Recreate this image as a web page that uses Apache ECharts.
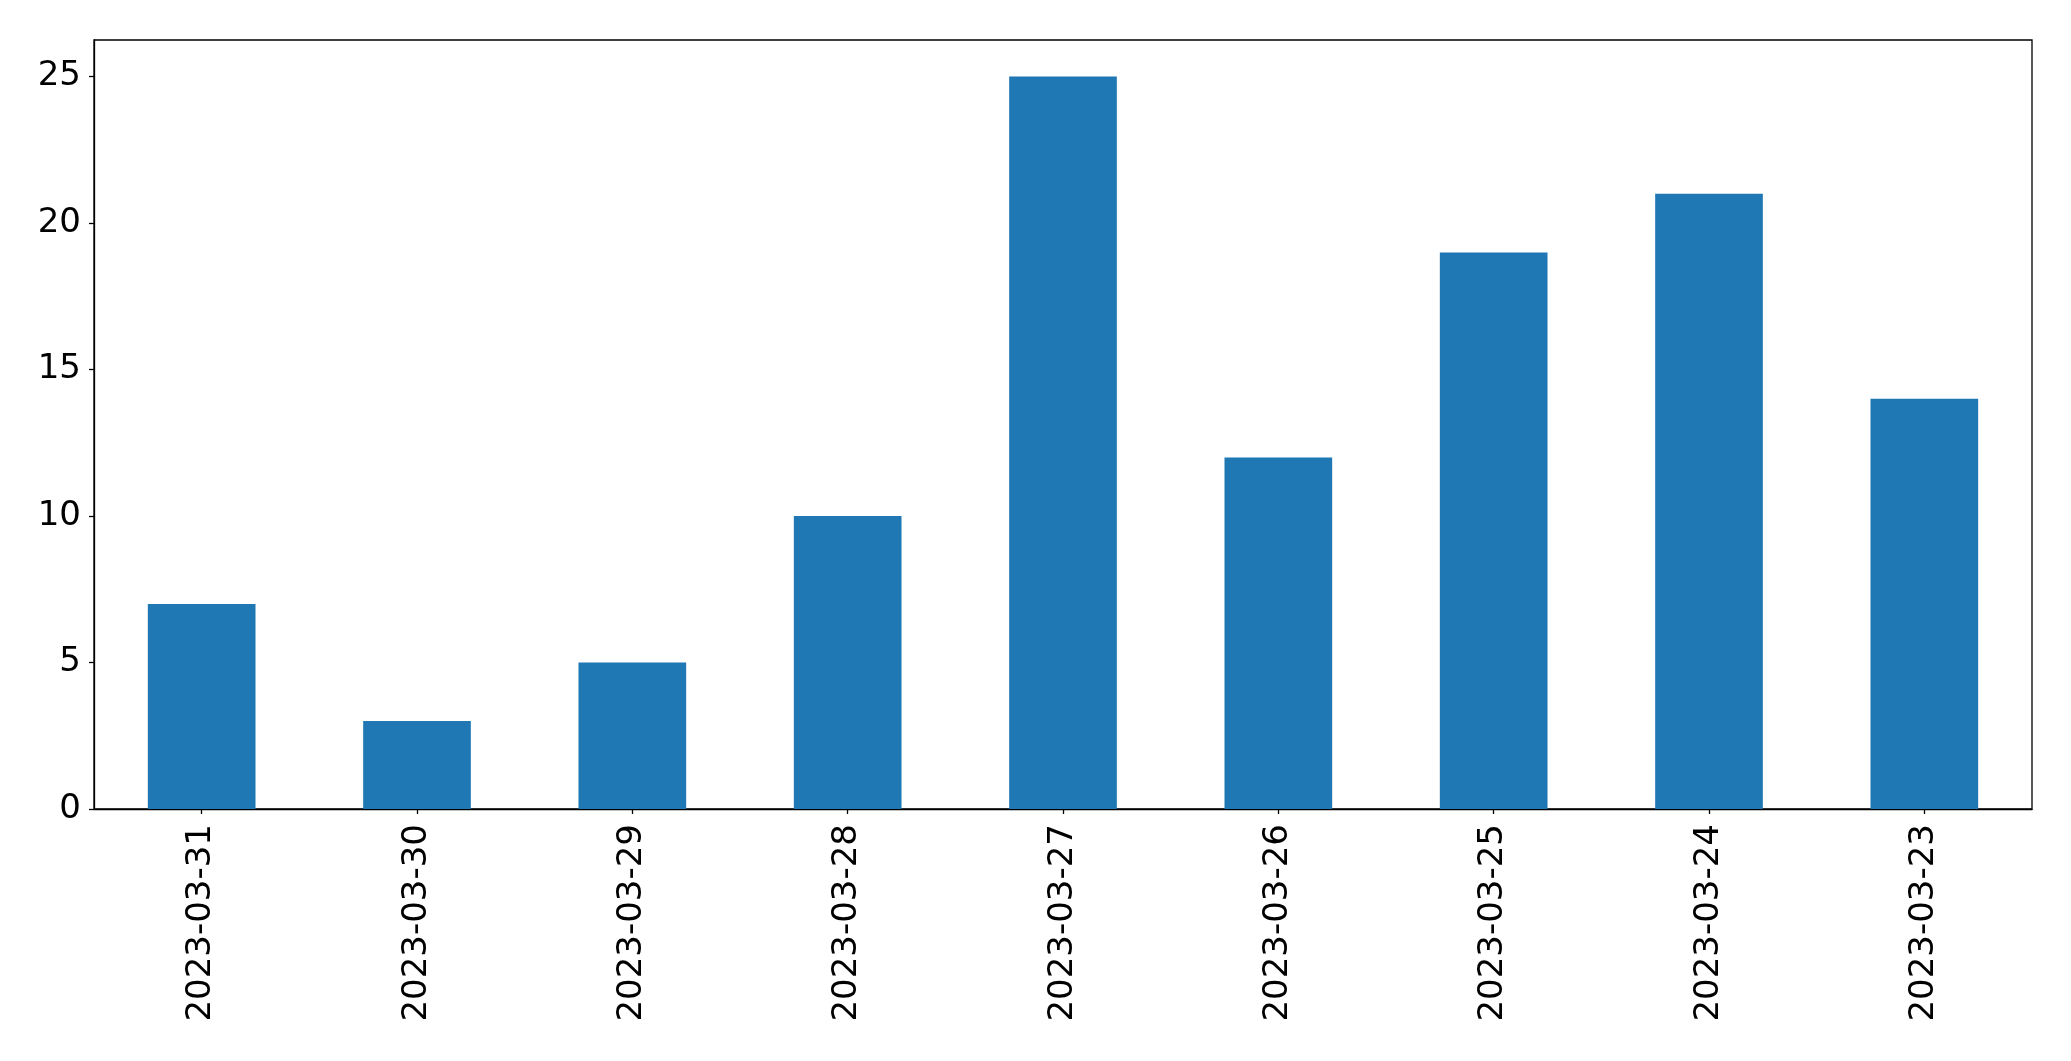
<!DOCTYPE html>
<html>
<head>
<meta charset="utf-8">
<script src="https://cdn.jsdelivr.net/npm/echarts@6/dist/echarts.min.js"></script>
<style>
html,body{margin:0;padding:0;background:#fff;}
#chart{width:2071px;height:1061px;}
</style>
</head>
<body>
<div id="chart"></div>
<script>
const categories = ['2023-03-31','2023-03-30','2023-03-29','2023-03-28','2023-03-27','2023-03-26','2023-03-25','2023-03-24','2023-03-23'];
const values = [7, 3, 5, 10, 25, 12, 19, 21, 14];
const yTicks = [0, 5, 10, 15, 20, 25];

const chart = echarts.init(document.getElementById('chart'), null, {renderer: 'canvas'});
const font = 'DejaVu Sans';
chart.setOption({
  animation: false,
  backgroundColor: '#ffffff',
  grid: {
    left: 94, right: 39, top: 40, bottom: 252,
    show: true, borderColor: '#000', borderWidth: 1.3, backgroundColor: 'transparent'
  },
  xAxis: {
    type: 'category',
    data: categories,
    boundaryGap: true,
    axisLine: {show: true, lineStyle: {color: '#000', width: 1.3}},
    axisTick: {show: true, alignWithLabel: true, length: 5, lineStyle: {color: '#000', width: 1.3}},
    axisLabel: {rotate: 90, margin: 15, color: '#000', fontFamily: font, fontSize: 34, interval: 0}
  },
  yAxis: {
    type: 'value',
    min: 0, max: 26.25, interval: 5,
    splitLine: {show: false},
    axisLine: {show: true, lineStyle: {color: '#000', width: 1.3}},
    axisTick: {show: true, length: 5, lineStyle: {color: '#000', width: 1.3}, customValues: yTicks},
    axisLabel: {margin: 13, color: '#000', fontFamily: font, fontSize: 34, customValues: yTicks}
  },
  series: [{
    type: 'bar',
    data: values,
    barWidth: '50%',
    itemStyle: {color: '#1f77b4'}
  }]
});
</script>
</body>
</html>
